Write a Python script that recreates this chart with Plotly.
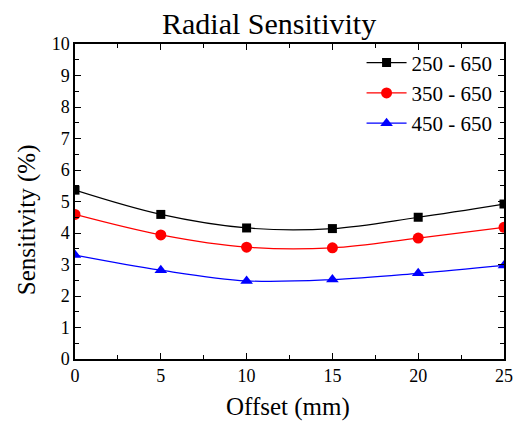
import plotly.graph_objects as go

offset = [0, 5, 10, 15, 20, 25]
s250 = [5.36, 4.59, 4.16, 4.14, 4.50, 4.92]
s350 = [4.59, 3.94, 3.55, 3.53, 3.84, 4.18]
s450 = [3.30, 2.82, 2.48, 2.52, 2.72, 2.97]
names = ["250 - 650", "350 - 650", "450 - 650"]

FONT = "Liberation Serif"

fig = go.Figure()
for ys, name, color, sym, msize in [
    (s250, names[0], "black", "square", 9),
    (s350, names[1], "red", "circle", 11),
    (s450, names[2], "blue", "triangle-up", 11),
]:
    fig.add_trace(go.Scatter(
        x=offset, y=ys, name=name, mode="lines+markers",
        line=dict(color=color, width=1.2, shape="spline", smoothing=1.0),
        marker=dict(symbol=sym, size=msize, color=color),
        cliponaxis=True,
    ))

axis_common = dict(
    showline=True, linecolor="black", linewidth=1.5, mirror="ticks",
    ticks="inside", ticklen=6, tickwidth=1, tickcolor="black",
    showgrid=False, zeroline=False,
    tickfont=dict(family=FONT, size=18, color="black"),
)

fig.update_xaxes(range=[0, 25], dtick=5, tick0=0,
                 minor=dict(dtick=2.5, ticks="inside", ticklen=4, tickcolor="black"),
                 **axis_common)
fig.update_yaxes(range=[0, 10], dtick=1, tick0=0,
                 minor=dict(dtick=0.5, ticks="inside", ticklen=4, tickcolor="black"),
                 **axis_common)

W, H = 525, 428
pl, pr, pt, pb = 75, 506, 44, 359

fig.update_layout(
    width=W, height=H,
    margin=dict(l=pl, r=W - pr, t=pt, b=H - pb),
    plot_bgcolor="white", paper_bgcolor="white",
    font=dict(family=FONT, color="black"),
    showlegend=True,
    legend=dict(x=0.985, y=1.005, xanchor="right", yanchor="top",
                bgcolor="rgba(0,0,0,0)", font=dict(family=FONT, size=21),
                tracegroupgap=0, itemwidth=40),
)

def px(xp):
    return (xp - pl) / (pr - pl)
def py(yp):
    return (pb - yp) / (pb - pt)

fig.update_layout(annotations=[
    dict(text="Radial Sensitivity", x=px(270), y=py(23), xref="paper", yref="paper",
         showarrow=False, font=dict(family=FONT, size=30), xanchor="center", yanchor="middle"),
    dict(text="Offset (mm)", x=px(289), y=py(407), xref="paper", yref="paper",
         showarrow=False, font=dict(family=FONT, size=25), xanchor="center", yanchor="middle"),
    dict(text="Sensitivity (%)", x=px(27), y=py(220), xref="paper", yref="paper",
         showarrow=False, font=dict(family=FONT, size=25), textangle=-90,
         xanchor="center", yanchor="middle"),
])

fig.write_html("out.html", config={"displayModeBar": False},
               post_script="document.body.style.margin='0';document.body.style.overflow='hidden';")
